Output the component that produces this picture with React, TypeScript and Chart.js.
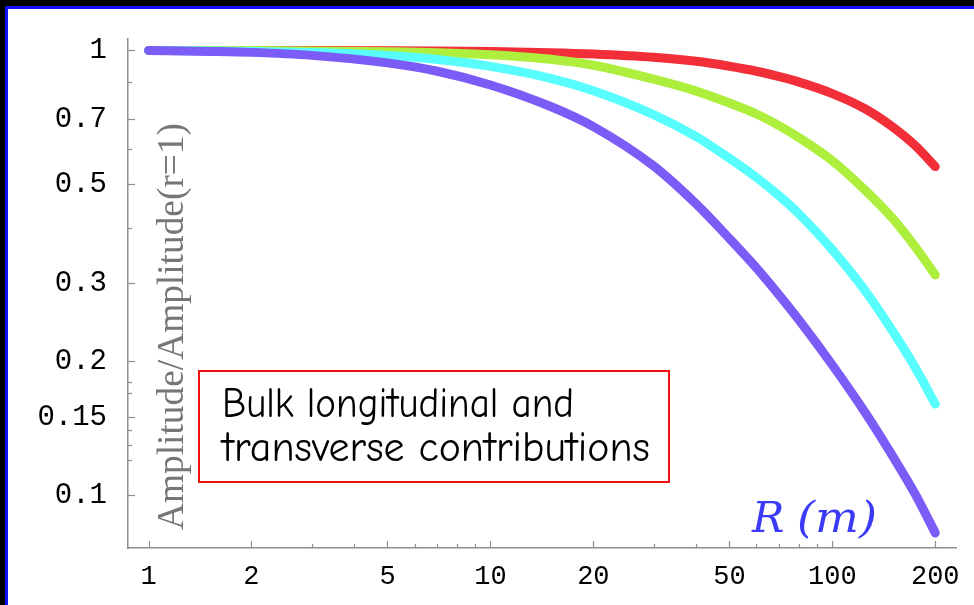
import React, { useEffect, useRef } from "react";
import { Chart, registerables } from "chart.js";

Chart.register(...registerables);

// Source–receiver distance R (m)
const radii = [1, 1.5, 2, 3, 5, 7, 10, 15, 20, 30, 40, 50, 60, 70, 80, 100, 125, 150, 175, 200];

// Normalised amplitude A(R)/A(r=1), one series per frequency band
const redAmp = [1.0, 1.0, 1.0, 0.9995, 0.9985, 0.9969, 0.9939, 0.9883, 0.9812, 0.9647, 0.945, 0.921, 0.8977, 0.8727, 0.8484, 0.7997, 0.7384, 0.6732, 0.6105, 0.5481];
const greenAmp = [1.0, 0.9995, 0.999, 0.9974, 0.9933, 0.9883, 0.9776, 0.9548, 0.9258, 0.8615, 0.81, 0.7615, 0.7197, 0.6767, 0.6362, 0.5652, 0.4845, 0.4195, 0.3615, 0.313];
const cyanAmp = [1.0, 0.9974, 0.9949, 0.9888, 0.9736, 0.9538, 0.9206, 0.8655, 0.8117, 0.7175, 0.6401, 0.5722, 0.518, 0.4708, 0.4287, 0.3566, 0.2878, 0.2341, 0.1935, 0.1605];
const purpleAmp = [1.0, 0.9949, 0.9898, 0.9746, 0.9373, 0.8977, 0.8362, 0.748, 0.6743, 0.5501, 0.4515, 0.3778, 0.3243, 0.2816, 0.2475, 0.1964, 0.1532, 0.1227, 0.1005, 0.0824];

const seriesColors = ["#7b5cf6", "#58fdfd", "#adef3c", "#f22e38"];

// Axis ticks
const xTickValues = [1, 2, 5, 10, 20, 50, 100, 200];
const xTickLabels = ["1", "2", "5", "10", "20", "50", "100", "200"];
const xMinorTicks = [3, 4, 6, 7, 8, 9, 30, 40, 60, 70, 80, 90];
const yTickValues = [0.1, 0.15, 0.2, 0.3, 0.5, 0.7, 1];
const yTickLabels = ["0.1", "0.15", "0.2", "0.3", "0.5", "0.7", "1"];
const yMinorTicks = [0.85, 0.6, 0.4, 0.18, 0.17, 0.14, 0.13, 0.12];

const yTitle = "Amplitude/Amplitude(r=1)";
const xTitleSymbol = "R";
const xTitleUnit = "(m)";
const noteLines = ["Bulk longitudinal and", "transverse contributions"];

const AXIS_GRAY = "#8e8e8e";

// draws a string squeezed/stretched to a given width
function fitText(ctx: CanvasRenderingContext2D, text: string, x: number, y: number, width: number) {
  const w = ctx.measureText(text).width;
  ctx.save();
  ctx.translate(x, y);
  ctx.scale(width / w, 1);
  ctx.fillText(text, 0, 0);
  ctx.restore();
}

const decorPlugin = {
  id: "decor",
  afterDraw(chart: any) {
    const { ctx, chartArea } = chart;
    const xs = chart.scales.x;
    const ys = chart.scales.y;
    ctx.save();

    // inward tick marks
    ctx.strokeStyle = AXIS_GRAY;
    ctx.lineWidth = 1.2;
    const bottom = chartArea.bottom;
    const left = chartArea.left;
    const xTick = (v: number, len: number) => {
      const px = Math.round(xs.getPixelForValue(v)) + 0.5;
      ctx.beginPath();
      ctx.moveTo(px, bottom);
      ctx.lineTo(px, bottom - len);
      ctx.stroke();
    };
    const yTick = (v: number, len: number) => {
      const py = Math.round(ys.getPixelForValue(v)) + 0.5;
      ctx.beginPath();
      ctx.moveTo(left, py);
      ctx.lineTo(left + len, py);
      ctx.stroke();
    };
    xTickValues.forEach((v) => xTick(v, 7));
    xMinorTicks.forEach((v) => xTick(v, 4));
    yTickValues.forEach((v) => yTick(v, 7));
    yMinorTicks.forEach((v) => yTick(v, 4));

    // vertical axis title
    ctx.save();
    ctx.translate(183, 327);
    ctx.rotate(-Math.PI / 2);
    ctx.font = '37px "Liberation Serif", "DejaVu Serif", serif';
    ctx.fillStyle = "#767676";
    ctx.textAlign = "left";
    ctx.textBaseline = "alphabetic";
    fitText(ctx, yTitle, -203, 0, 407);
    ctx.restore();

    // horizontal axis title
    ctx.fillStyle = "#3b3bf7";
    ctx.textAlign = "left";
    ctx.textBaseline = "alphabetic";
    ctx.font = 'italic 43px "DejaVu Serif", serif';
    ctx.fillText(xTitleSymbol, 752, 532);
    fitText(ctx, xTitleUnit, 797, 532, 80);

    // annotation box
    const bx = 199, by = 371, bw = 470, bh = 111;
    ctx.fillStyle = "#ffffff";
    ctx.fillRect(bx, by, bw, bh);
    ctx.strokeStyle = "#f01010";
    ctx.lineWidth = 2;
    ctx.strokeRect(bx, by, bw, bh);
    ctx.fillStyle = "#000000";
    const fam = '"Comic Sans MS", "Comic Neue", "Noto Sans", sans-serif';
    ctx.font = `100px ${fam}`;
    const w2 = ctx.measureText(noteLines[1]).width;
    const size = (100 * 428) / w2;
    ctx.font = `${size.toFixed(1)}px ${fam}`;
    fitText(ctx, noteLines[0], 222, 417, 352);
    fitText(ctx, noteLines[1], 222, 461, 428);

    ctx.restore();
  },
};

export default function App() {
  const canvasRef = useRef<HTMLCanvasElement | null>(null);

  useEffect(() => {
    document.body.style.margin = "0";
    const canvas = canvasRef.current;
    if (!canvas) return;

    const mk = (vals: number[]) => radii.map((r, i) => ({ x: r, y: vals[i] }));
    const lineStyle = {
      borderWidth: 9,
      pointRadius: 0,
      borderCapStyle: "round" as const,
      borderJoinStyle: "round" as const,
      cubicInterpolationMode: "monotone" as const,
      fill: false,
    };

    const chart = new Chart(canvas, {
      type: "line",
      data: {
        datasets: [
          { label: "purple", data: mk(purpleAmp), borderColor: seriesColors[0], ...lineStyle },
          { label: "cyan", data: mk(cyanAmp), borderColor: seriesColors[1], ...lineStyle },
          { label: "green", data: mk(greenAmp), borderColor: seriesColors[2], ...lineStyle },
          { label: "red", data: mk(redAmp), borderColor: seriesColors[3], ...lineStyle },
        ],
      },
      options: {
        animation: false,
        responsive: false,
        devicePixelRatio: 1,
        layout: { padding: { left: 0, right: 18, top: 35, bottom: 0 } },
        plugins: {
          legend: { display: false },
          tooltip: { enabled: false },
        },
        scales: {
          x: {
            type: "logarithmic",
            position: "bottom",
            min: 0.871,
            max: 230,
            bounds: "data",
            grid: { display: false, drawTicks: false },
            border: { display: true, color: AXIS_GRAY, width: 1.5 },
            afterBuildTicks: (s: any) => {
              s.ticks = xTickValues.map((v) => ({ value: v }));
            },
            afterFit: (s: any) => {
              s.height = 57;
            },
            ticks: {
              autoSkip: false,
              maxRotation: 0,
              padding: 13,
              color: "#000000",
              font: { family: '"Liberation Mono", "DejaVu Sans Mono", monospace', size: 27 },
              callback: (_v: any, i: number) => xTickLabels[i],
            },
          },
          y: {
            type: "logarithmic",
            position: "left",
            min: 0.0762,
            max: 1.064,
            bounds: "data",
            grid: { display: false, drawTicks: false },
            border: { display: true, color: AXIS_GRAY, width: 1.5 },
            afterBuildTicks: (s: any) => {
              s.ticks = yTickValues.map((v) => ({ value: v }));
            },
            afterFit: (s: any) => {
              s.width = 128;
            },
            ticks: {
              autoSkip: false,
              padding: 21,
              color: "#000000",
              font: { family: '"Liberation Mono", "DejaVu Sans Mono", monospace', size: 29 },
              callback: (_v: any, i: number) => yTickLabels[i],
            },
          },
        },
      },
      plugins: [decorPlugin],
    });

    return () => chart.destroy();
  }, []);

  return (
    <div
      style={{
        position: "fixed",
        left: 0,
        top: 0,
        width: 974,
        height: 605,
        background: "#000000",
        overflow: "hidden",
      }}
    >
      <div
        style={{
          position: "absolute",
          left: 5,
          top: 6,
          right: -10,
          bottom: -10,
          background: "#ffffff",
          borderLeft: "3px solid #1010ff",
          borderTop: "3px solid #1010ff",
        }}
      />
      <canvas
        ref={canvasRef}
        width={974}
        height={605}
        style={{ position: "absolute", left: 0, top: 0, width: 974, height: 605 }}
      />
    </div>
  );
}
